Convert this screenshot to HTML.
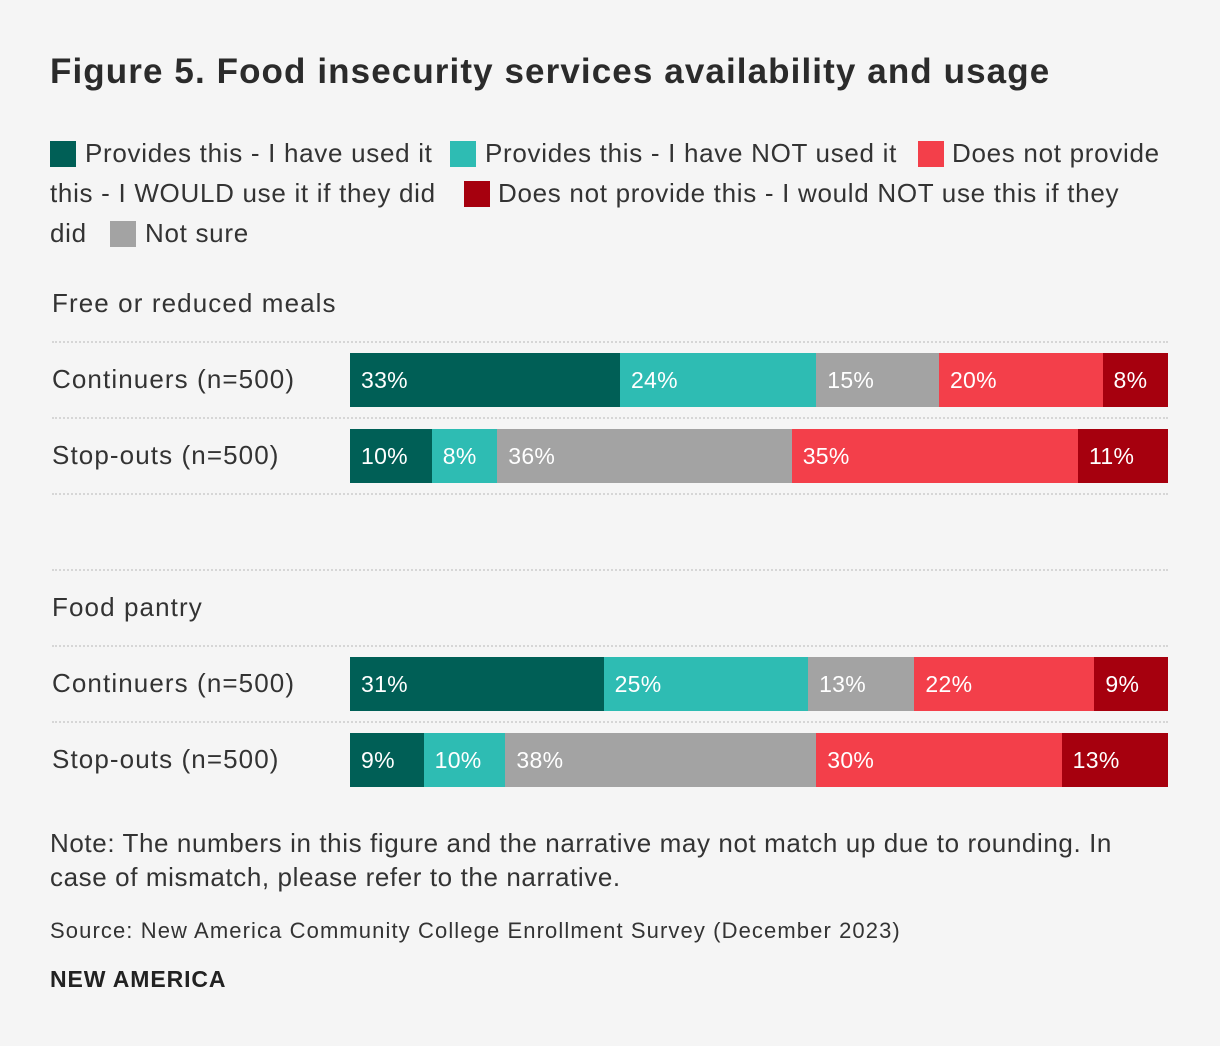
<!DOCTYPE html>
<html><head><meta charset="utf-8">
<style>
body{margin:0;background:#f5f5f5;font-family:"Liberation Sans",sans-serif;color:#333;}
#page{position:relative;width:1220px;height:1046px;background:#f5f5f5;overflow:hidden;}
.abs{position:absolute;white-space:nowrap;}
h1{position:absolute;left:50px;top:52px;margin:0;font-size:35px;letter-spacing:1.1px;font-weight:bold;color:#2b2b2b;white-space:nowrap;}
.lg{position:absolute;font-size:26px;letter-spacing:0.7px;line-height:40px;color:#333;white-space:nowrap;}
.sw{position:absolute;width:26px;height:26px;}
.dot{position:absolute;left:52px;width:1116px;border-top:2px dotted #d6d6d6;height:0;}
.lab{position:absolute;left:52px;font-size:26px;letter-spacing:1.1px;color:#333;white-space:nowrap;}
.bar{position:absolute;height:54px;}
.bl{position:absolute;left:11px;top:0;line-height:54px;font-size:23px;letter-spacing:0.3px;color:#fff;}
</style></head><body>
<div id="page">
<h1>Figure 5. Food insecurity services availability and usage</h1>
<div id="legend">
<div class="sw" style="left:50px;top:141px;background:#005f56"></div>
<div class="lg" style="left:85px;top:133px">Provides this - I have used it</div>
<div class="sw" style="left:450px;top:141px;background:#2ebcb3"></div>
<div class="lg" style="left:485px;top:133px">Provides this - I have NOT used it</div>
<div class="sw" style="left:918px;top:141px;background:#f33f4a"></div>
<div class="lg" style="left:952px;top:133px">Does not provide</div>
<div class="lg" style="left:50px;top:173px">this - I WOULD use it if they did</div>
<div class="sw" style="left:464px;top:181px;background:#a6000e"></div>
<div class="lg" style="left:498px;top:173px">Does not provide this - I would NOT use this if they</div>
<div class="lg" style="left:50px;top:213px">did</div>
<div class="sw" style="left:110px;top:221px;background:#a3a3a3"></div>
<div class="lg" style="left:145px;top:213px">Not sure</div>
</div>
<div id="chart"></div>
<div class="abs" style="left:50px;top:826px;font-size:26px;letter-spacing:0.6px;line-height:34px;white-space:normal;width:1125px;">Note: The numbers in this figure and the narrative may not match up due to rounding. In case of mismatch, please refer to the narrative.</div>
<div class="abs" style="left:50px;top:918px;font-size:22px;letter-spacing:1.1px;">Source: New America Community College Enrollment Survey (December 2023)</div>
<div class="abs" style="left:50px;top:966px;font-size:23px;letter-spacing:0.9px;font-weight:bold;color:#222;">NEW AMERICA</div>
</div>
<script>
const sections=["Free or reduced meals","Food pantry"];
const rowLabels=["Continuers (n=500)","Stop-outs (n=500)"];
const seriesNames=["used","not-used","not-sure","would-use","would-not-use"];
const mealsValues=[[33,24,15,20,8],[10,8,36,35,11]];
const pantryValues=[[31,25,13,22,9],[9,10,38,30,13]];
const colors=["#005f56","#2ebcb3","#a3a3a3","#f33f4a","#a6000e"];
const allValues=[mealsValues,pantryValues];
const chart=document.getElementById('chart');
const x0=350,x1=1168;
function xScale(v){return (x1-x0)*v/100;}
const secTop=[286,590];
allValues.forEach((vals,s)=>{
  const top=secTop[s];
  const h=document.createElement('div');h.className='lab';h.style.top=(top+2)+'px';h.textContent=sections[s];
  
  
  chart.appendChild(h);
  const nLines=s===0?3:2;
  for(let i=0;i<nLines;i++){const d=document.createElement('div');d.className='dot';d.style.top=(top+55+i*76)+'px';
    
    
    chart.appendChild(d);}
  if(s===1){const d=document.createElement('div');d.className='dot';d.style.top=(top-21)+'px';
    
    
    chart.appendChild(d);}
  vals.forEach((row,r)=>{
    const yb=top+67+r*76;
    const l=document.createElement('div');l.className='lab';l.style.top=(yb+11)+'px';l.textContent=rowLabels[r];
    
    
    chart.appendChild(l);
    let cum=0;
    row.forEach((v,k)=>{
      const b=document.createElement('div');b.className='bar';
      b.style.left=(x0+xScale(cum))+'px';b.style.width=xScale(v)+'px';b.style.top=yb+'px';b.style.background=colors[k];
      
      
      const t=document.createElement('span');t.className='bl';t.textContent=v+'%';
      b.appendChild(t);chart.appendChild(b);cum+=v;
    });
  });
});
</script>
</body></html>
